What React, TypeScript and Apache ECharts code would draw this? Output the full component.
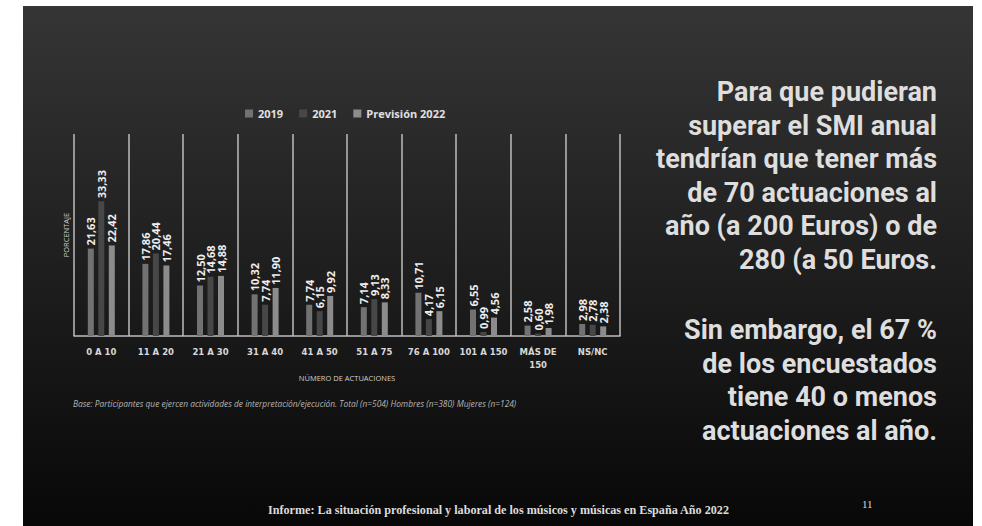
import React, { useEffect, useRef } from "react";
import * as echarts from "echarts";

const categories = ["0 A 10", "11 A 20", "21 A 30", "31 A 40", "41 A 50", "51 A 75", "76 A 100", "101 A 150", "MÁS DE\n150", "NS/NC"];
const seriesNames = ["2019", "2021", "Previsión 2022"];
const values2019 = [21.63, 17.86, 12.5, 10.32, 7.74, 7.14, 10.71, 6.55, 2.58, 2.98];
const values2021 = [33.33, 20.44, 14.68, 7.74, 6.15, 9.13, 4.17, 0.99, 0.6, 2.78];
const values2022 = [22.42, 17.46, 14.88, 11.9, 9.92, 8.33, 6.15, 4.56, 1.98, 2.38];
const seriesColors = ["#727272", "#474747", "#8c8c8c"];

const sideText1 = [
  "Para que pudieran",
  "superar el SMI anual",
  "tendrían que tener más",
  "de 70 actuaciones al",
  "año (a 200 Euros) o de",
  "280 (a 50 Euros.",
];
const sideText2 = ["Sin embargo, el 67 %", "de los encuestados", "tiene 40 o menos", "actuaciones al año."];
const footnote = "Base: Participantes que ejercen actividades de interpretación/ejecución. Total (n=504) Hombres (n=380) Mujeres (n=124)";
const footer = "Informe: La situación profesional y laboral de los músicos y músicas en España Año 2022";
const pageNumber = "11";

export default function App() {
  const ref = useRef<HTMLDivElement>(null);
  useEffect(() => {
    if (!ref.current) return;
    const chart = echarts.init(ref.current, undefined, { renderer: "svg" });
    const fmt = (p: any) => Number(p.value).toFixed(2).replace(".", ",");
    const allData = [values2019, values2021, values2022];
    const sideStyle = {
      fontSize: 27,
      fontWeight: "bold",
      fontFamily: "Roboto, 'Open Sans', sans-serif",
      fill: "#dedede",
      align: "right",
      verticalAlign: "middle",
    };
    const graphics: any[] = [
      {
        type: "rect",
        silent: true,
        z: -10,
        shape: { x: 23, y: 6, width: 950, height: 520 },
        style: {
          fill: new echarts.graphic.LinearGradient(0, 0, 0, 1, [
            { offset: 0, color: "#353535" },
            { offset: 1, color: "#080808" },
          ]),
        },
      },
    ];
    sideText1.forEach((t, i) => {
      graphics.push({ type: "text", x: 937, y: 92 + i * 33.6, style: { ...sideStyle, text: t } });
    });
    sideText2.forEach((t, i) => {
      graphics.push({ type: "text", x: 937, y: 330 + i * 33.6, style: { ...sideStyle, text: t } });
    });
    graphics.push(
      {
        type: "text",
        x: 73,
        y: 403,
        style: {
          text: footnote,
          fontSize: 8.4,
          fontStyle: "italic",
          fontFamily: "'Open Sans', sans-serif",
          fill: "#b5b5b5",
          verticalAlign: "middle",
        },
      },
      {
        type: "text",
        x: 268,
        y: 510,
        scaleX: 0.9,
        style: {
          text: footer,
          fontSize: 13.5,
          fontWeight: "bold",
          fontFamily: "'Liberation Serif', serif",
          fill: "#dcdcdc",
          verticalAlign: "middle",
        },
      },
      {
        type: "text",
        x: 862,
        y: 504,
        style: {
          text: pageNumber,
          fontSize: 11,
          fontFamily: "'Liberation Serif', serif",
          fill: "#dcdcdc",
          verticalAlign: "middle",
        },
      }
    );
    chart.setOption({
      animation: false,
      backgroundColor: "#ffffff",
      textStyle: { fontFamily: "'Open Sans', sans-serif" },
      legend: {
        top: 103,
        left: 240,
        itemWidth: 8,
        itemHeight: 8,
        itemGap: 16,
        icon: "rect",
        textStyle: { color: "#e0e0e0", fontWeight: "bold", fontSize: 11 },
        data: seriesNames,
      },
      grid: { left: 74, right: 362, top: 134, bottom: 190 },
      xAxis: {
        type: "category",
        data: categories,
        name: "NÚMERO DE ACTUACIONES",
        nameLocation: "middle",
        nameGap: 38,
        nameTextStyle: { color: "#cfcfcf", fontSize: 7.5 },
        axisLine: { show: true, lineStyle: { color: "#bdbdbd", width: 1.5 } },
        axisTick: { show: false },
        splitLine: { show: true, lineStyle: { color: "#bdbdbd", width: 1.5 } },
        axisLabel: {
          color: "#d8d8d8",
          fontSize: 8.5,
          fontFamily: "'DejaVu Sans'",
          fontWeight: "bold",
          interval: 0,
          margin: 9,
          lineHeight: 13,
        },
      },
      yAxis: {
        type: "value",
        min: 0,
        max: 50,
        name: "PORCENTAJE",
        nameLocation: "middle",
        nameRotate: 90,
        nameGap: 4,
        nameTextStyle: { color: "#cfcfcf", fontSize: 7.5 },
        axisLine: { show: false },
        axisTick: { show: false },
        axisLabel: { show: false },
        splitLine: { show: false },
      },
      series: seriesNames.map((n, i) => ({
        name: n,
        type: "bar",
        data: allData[i],
        barWidth: 6,
        barGap: "75%",
        itemStyle: { color: seriesColors[i] },
        label: {
          show: true,
          position: "top",
          rotate: 90,
          align: "left",
          verticalAlign: "middle",
          distance: 3,
          color: "#eeeeee",
          fontSize: 11,
          fontWeight: "bold",
          formatter: fmt,
        },
      })),
      graphic: graphics,
    });
    return () => chart.dispose();
  }, []);
  return (
    <div
      ref={ref}
      style={{ position: "absolute", left: 0, top: 0, width: 982, height: 526 }}
    />
  );
}
